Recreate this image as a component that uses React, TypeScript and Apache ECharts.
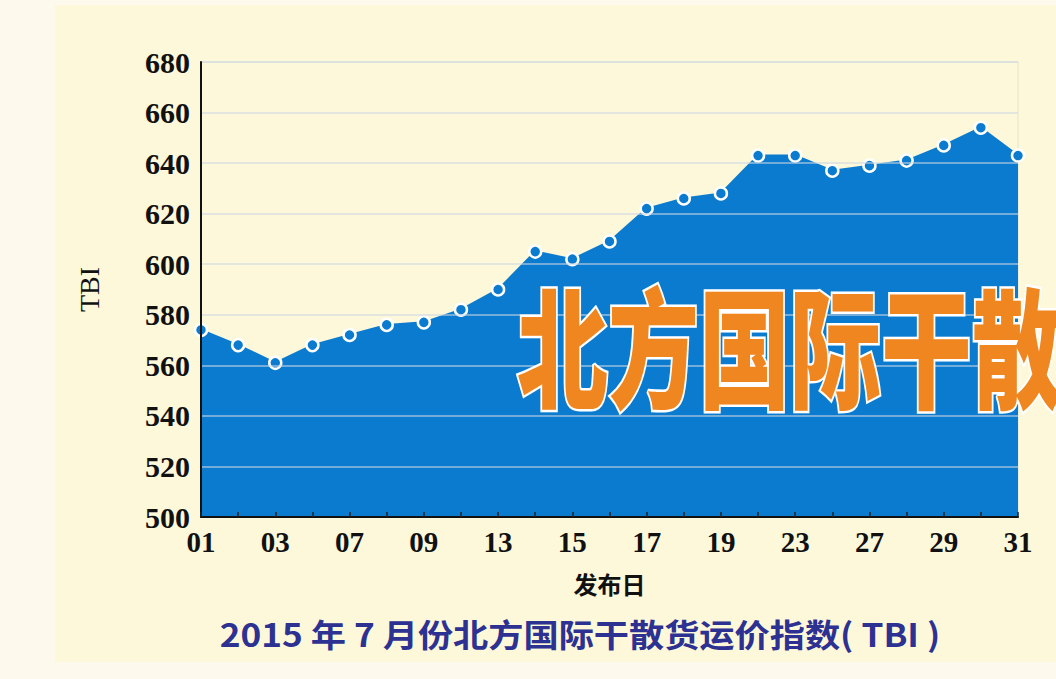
import React, { useEffect, useRef } from "react";
import * as echarts from "echarts";

const categories = ["01", "02", "03", "06", "07", "08", "09", "10", "13", "14", "15", "16", "17", "18", "19", "20", "23", "24", "27", "28", "29", "30", "31"];
const tbiValues = [574, 568, 561, 568, 572, 576, 577, 582, 590, 605, 602, 609, 622, 626, 628, 643, 643, 637, 639, 641, 647, 654, 643];
const yMin = 500;
const yMax = 680;
const yStep = 20;
const titleText = "2015 年 7 月份北方国际干散货运价指数( TBI )";
const xAxisName = "发布日";
const yAxisName = "TBI";
const bannerText = "北方国际干散";

const BLUE = "#0b7bcf";

export default function App() {
  const ref = useRef<HTMLDivElement>(null);
  useEffect(() => {
    if (!ref.current) return;
    const chart = echarts.init(ref.current, null, { renderer: "svg" });
    chart.setOption({
      animation: false,
      backgroundColor: "#fdf9ec",
      grid: { left: 201, right: 38, top: 62, bottom: 162, show: true, borderColor: "#e4e1d2", borderWidth: 1, backgroundColor: "transparent" },
      graphic: [
        { type: "rect", z: -10, shape: { x: 55, y: 5, width: 1001, height: 657 }, style: { fill: "#fcf8d9" } },
        {
          type: "text",
          z: 100,
          x: 517,
          y: 276,
          scaleX: 0.7,
          style: {
            text: bannerText,
            font: "900 130px 'Noto Sans CJK SC'",
            fill: "#f0861f",
            stroke: "#ffffff",
            lineWidth: 5,
            textVerticalAlign: "top",
          },
        },
        {
          type: "text",
          z: 100,
          x: 580,
          y: 633,
          scaleX: 1.1,
          style: {
            text: titleText,
            font: "bold 32px 'Noto Sans CJK SC'",
            fill: "#2d3191",
            textAlign: "center",
            textVerticalAlign: "middle",
          },
        },
      ],
      xAxis: {
        type: "category",
        data: categories,
        boundaryGap: false,
        name: xAxisName,
        nameLocation: "middle",
        nameGap: 54,
        nameTextStyle: { fontFamily: "'Noto Sans CJK SC'", fontWeight: "bold", fontSize: 24, color: "#111" },
        z: 3,
        axisLine: { lineStyle: { color: "#111", width: 2 } },
        axisTick: { show: true, inside: true, length: 5, interval: 0, lineStyle: { color: "#222", width: 1.5 } },
        axisLabel: { interval: 1, margin: 10, fontFamily: "'Liberation Serif'", fontWeight: "bold", fontSize: 29, color: "#111" },
        splitLine: { show: false },
      },
      yAxis: {
        type: "value",
        min: yMin,
        max: yMax,
        interval: yStep,
        name: yAxisName,
        nameLocation: "middle",
        nameGap: 98,
        nameRotate: 90,
        nameTextStyle: { fontFamily: "'Liberation Serif'", fontSize: 28, color: "#111" },
        z: 3,
        axisLine: { show: true, lineStyle: { color: "#111", width: 2 } },
        axisTick: { show: false },
        axisLabel: { margin: 11, fontFamily: "'Liberation Serif'", fontWeight: "bold", fontSize: 30, color: "#111" },
        splitLine: { show: true, lineStyle: { color: "rgba(205,215,228,0.55)", width: 2 } },
      },
      series: [
        {
          type: "line",
          data: tbiValues,
          symbol: "circle",
          symbolSize: 12,
          showAllSymbol: true,
          lineStyle: { color: BLUE, width: 2 },
          itemStyle: { color: BLUE, borderColor: "#ffffff", borderWidth: 2.5 },
          areaStyle: { color: BLUE, opacity: 1 },
          z: 2,
        },
      ],
    });
    return () => chart.dispose();
  }, []);
  return <div ref={ref} style={{ position: "fixed", left: 0, top: 0, width: 1056, height: 679 }} />;
}
